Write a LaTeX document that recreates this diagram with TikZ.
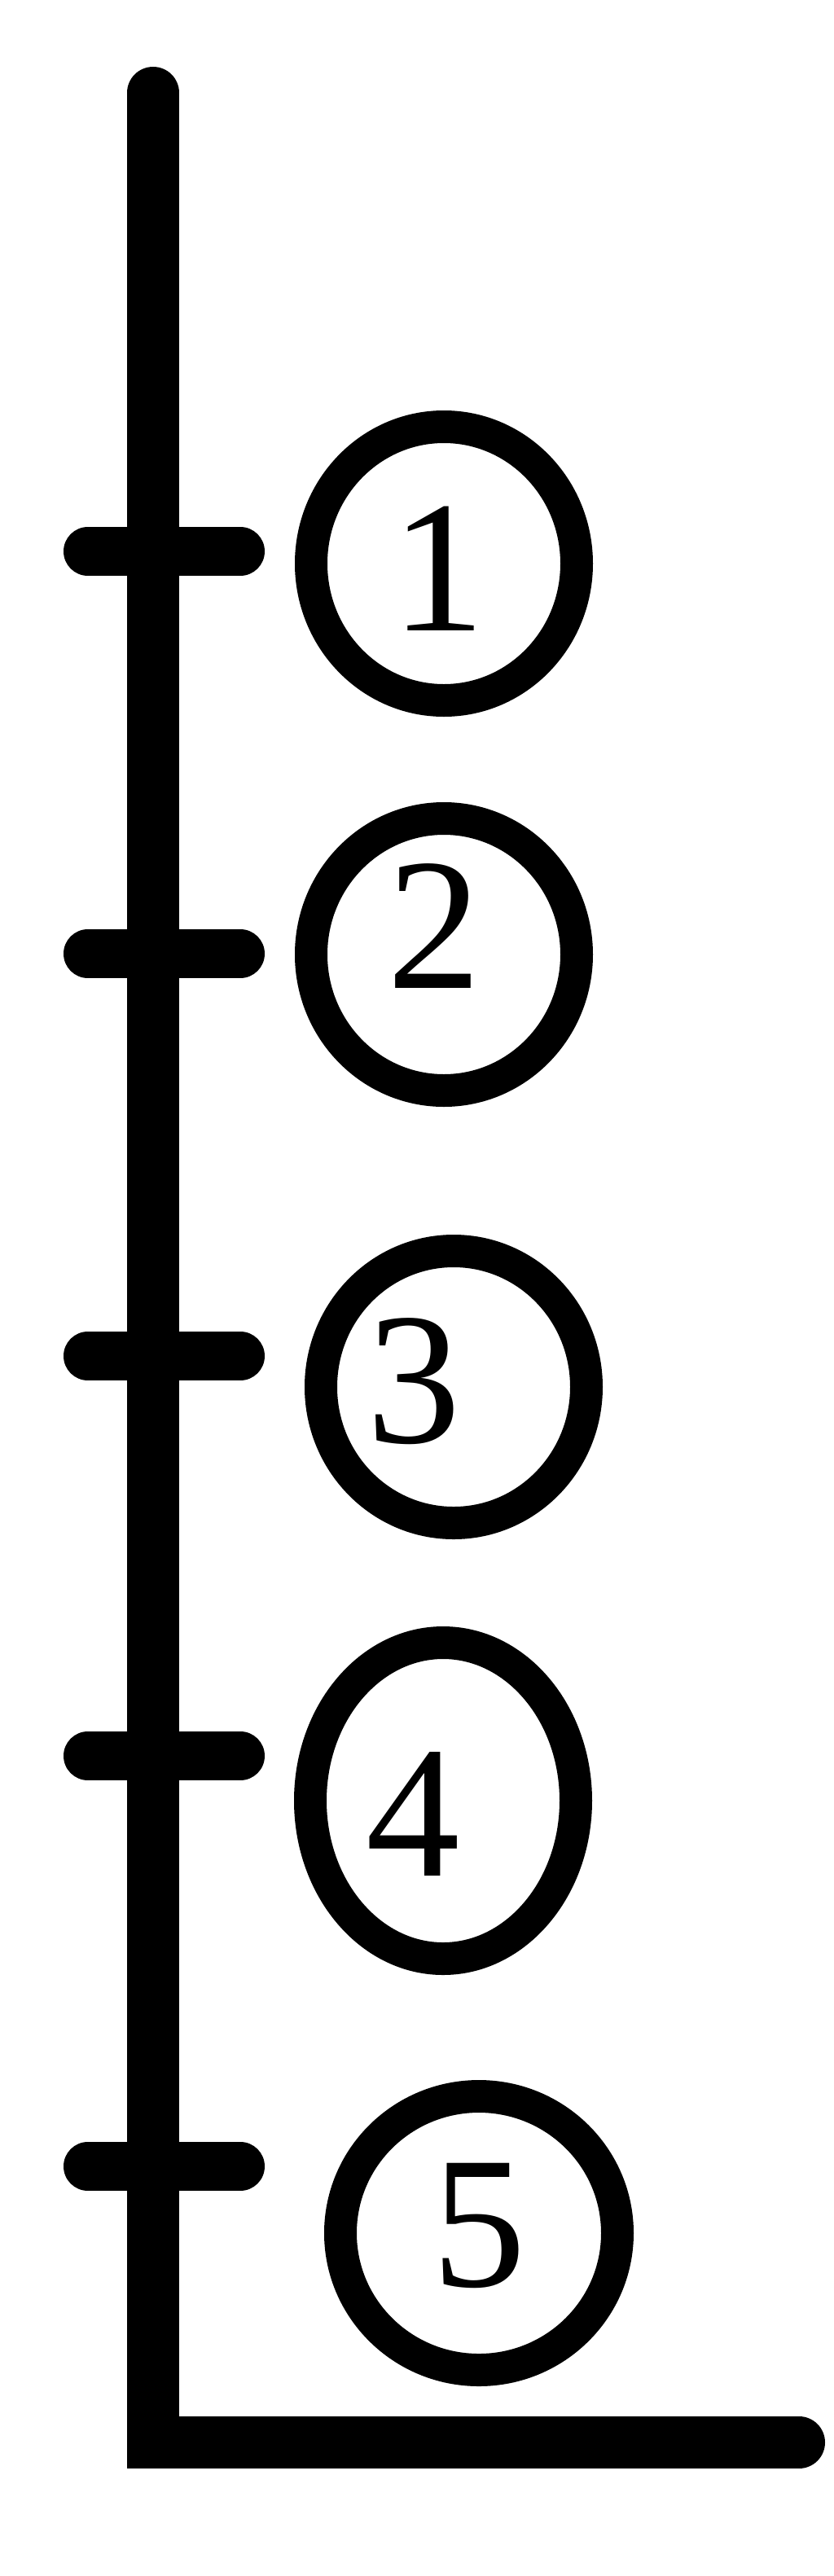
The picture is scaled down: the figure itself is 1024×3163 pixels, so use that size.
\documentclass[tikz,border=0pt]{standalone}
\usepackage{fontspec}
\setmainfont{Liberation Serif}
\usetikzlibrary{shapes.geometric}
\begin{document}
\begin{tikzpicture}[x=1pt,y=-1pt,
  axisline/.style={line width=64pt,line cap=round,line join=miter},
  tickline/.style={line width=60pt,line cap=round},
  ring/.style={draw,ellipse,line width=40pt,inner sep=0pt},
  digit/.style={inner sep=0pt,font=\fontsize{231}{231}\selectfont}]
\fill[white] (0,0) rectangle (1024,3163);
\useasboundingbox (0,0) rectangle (1024,3163);
% axis
\coordinate (top) at (188,114);
\coordinate (corner) at (188,2999);
\coordinate (right) at (981,2999);
\draw[axisline] (top) -- (corner) -- (right);
% ticks
\coordinate (t1l) at (108,677);  \coordinate (t1r) at (295,677);
\coordinate (t2l) at (108,1171); \coordinate (t2r) at (295,1171);
\coordinate (t3l) at (108,1665); \coordinate (t3r) at (295,1665);
\coordinate (t4l) at (108,2156); \coordinate (t4r) at (295,2156);
\coordinate (t5l) at (108,2660); \coordinate (t5r) at (295,2660);
\draw[tickline] (t1l) -- (t1r);
\draw[tickline] (t2l) -- (t2r);
\draw[tickline] (t3l) -- (t3r);
\draw[tickline] (t4l) -- (t4r);
\draw[tickline] (t5l) -- (t5r);
% rings
\node[ring,minimum width=326pt,minimum height=336pt] (c1) at (545,692) {};
\node[ring,minimum width=326pt,minimum height=334pt] (c2) at (545,1172) {};
\node[ring,minimum width=326pt,minimum height=334pt] (c3) at (557,1703) {};
\node[ring,minimum width=326pt,minimum height=388pt] (c4) at (544,2211) {};
\node[ring,minimum width=340pt,minimum height=336pt] (c5) at (588,2742) {};
% digits
\node[digit] (n1) at (538,698) {1};
\node[digit] (n2) at (533,1137) {2};
\node[digit] (n3) at (508,1696) {3};
\node[digit] (n4) at (507,2227) {4};
\node[digit] (n5) at (588,2733) {5};
\end{tikzpicture}
\end{document}
